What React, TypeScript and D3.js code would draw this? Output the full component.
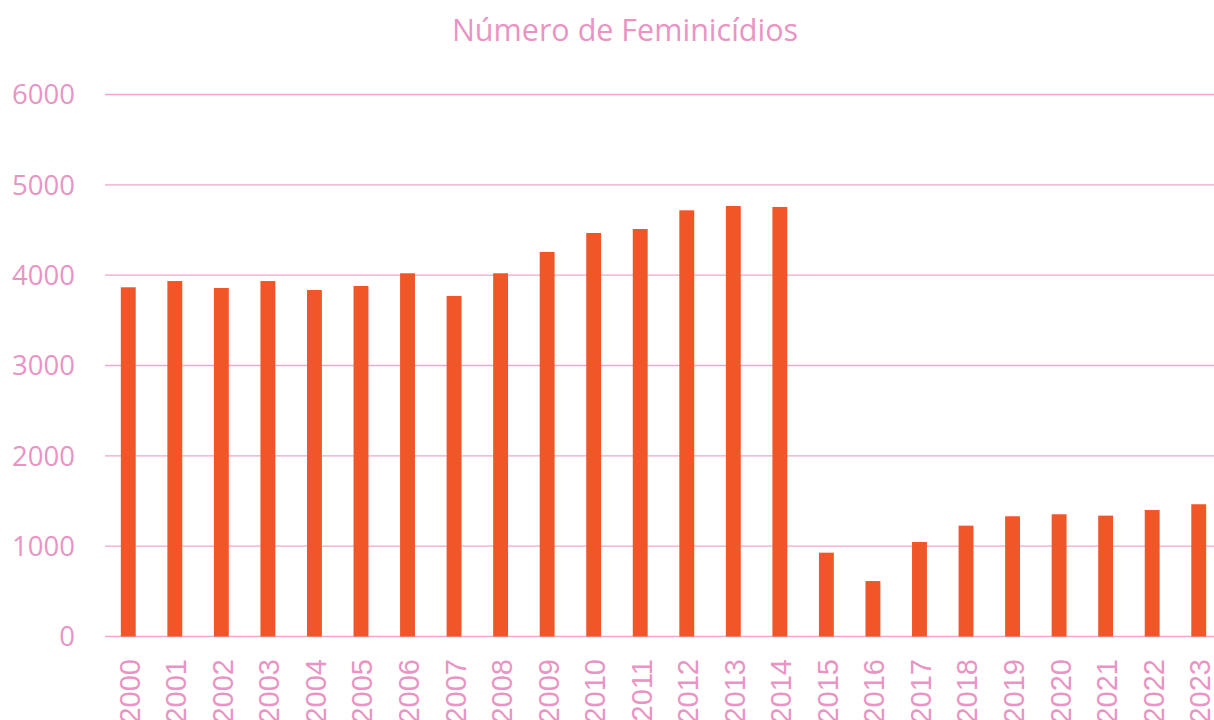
import React, { useEffect, useRef } from 'react';
import * as d3 from 'd3';

const years = [
    '2000', '2001', '2002', '2003', '2004', '2005', '2006', '2007', '2008', '2009', '2010', '2011',
    '2012', '2013', '2014', '2015', '2016', '2017', '2018', '2019', '2020', '2021', '2022', '2023',
];
const feminicidios = [
    3866, 3935, 3858, 3935, 3836, 3880, 4021, 3770, 4021, 4257, 4467, 4511,
    4718, 4766, 4755, 928, 614, 1046, 1227, 1331, 1353, 1338, 1400, 1464,
];
const yTicks = [0, 1000, 2000, 3000, 4000, 5000, 6000];
const title = 'Número de Feminicídios';

const App: React.FC = () => {
    const svgRef = useRef<SVGSVGElement>(null);

    useEffect(() => {
        // Clear previous render
        d3.select(svgRef.current).selectAll('*').remove();

        const width = 1214;
        const height = 720;
        const pink = '#e994c3';

        const svg = d3.select(svgRef.current)
            .attr('width', width)
            .attr('height', height)
            .style('display', 'block')
            .style('background', '#ffffff');

        const x = d3.scaleBand()
            .domain(years)
            .range([105, 1222])
            .paddingInner(0.68)
            .paddingOuter(0.34);

        const y = d3.scaleLinear()
            .domain([0, 6000])
            .range([636.5, 94.5]);

        // Title
        svg.append('text')
            .attr('x', 625)
            .attr('y', 41)
            .attr('text-anchor', 'middle')
            .style('font-family', 'Open Sans')
            .style('font-size', '30.5px')
            .style('fill', pink)
            .text(title);

        // Gridlines
        svg.append('g')
            .selectAll('line')
            .data(yTicks)
            .enter()
            .append('line')
            .attr('x1', 105)
            .attr('x2', width)
            .attr('y1', d => y(d))
            .attr('y2', d => y(d))
            .attr('stroke', '#f0a6d0')
            .attr('stroke-width', 1.3);

        // Y labels
        svg.append('g')
            .selectAll('text')
            .data(yTicks)
            .enter()
            .append('text')
            .attr('x', 75)
            .attr('y', d => y(d))
            .attr('dy', '0.36em')
            .attr('text-anchor', 'end')
            .style('font-family', 'Open Sans')
            .style('font-size', '27.5px')
            .style('fill', pink)
            .text(d => d);

        // Bars
        svg.append('g')
            .selectAll('rect')
            .data(feminicidios)
            .enter()
            .append('rect')
            .attr('x', (d, i) => x(years[i]) || 0)
            .attr('y', d => y(d))
            .attr('width', x.bandwidth())
            .attr('height', d => y(0) - y(d))
            .attr('fill', '#f15629');

        // X labels (rotated, cut at the bottom edge like the original)
        svg.append('g')
            .selectAll('text')
            .data(years)
            .enter()
            .append('text')
            .attr('transform', d => `translate(${(x(d) || 0) + x.bandwidth() / 2 + 1},659) rotate(-90)`)
            .attr('dy', '0.36em')
            .attr('text-anchor', 'end')
            .style('font-family', 'Liberation Sans')
            .style('font-size', '29px')
            .style('fill', pink)
            .text(d => d);
    }, []);

    return <svg ref={svgRef} style={{ position: 'absolute', left: 0, top: 0 }}></svg>;
};

export default App;
